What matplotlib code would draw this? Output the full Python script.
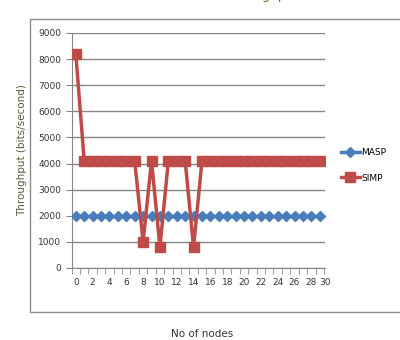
import matplotlib.pyplot as plt
import numpy as np
from matplotlib.patches import Rectangle

nodes = np.arange(0, 30)
masp = [2000] * 30
simp = [8200, 4100, 4100, 4100, 4100, 4100, 4100, 4100, 1000, 4100,
        800, 4100, 4100, 4100, 800] + [4100] * 15
xtick_labels = ['0', '2', '4', '6', '8', '10', '12', '14', '16', '18',
                '20', '22', '24', '26', '28', '30']

fig = plt.figure(figsize=(4, 3.4), dpi=100)
ax = fig.add_axes([0.179, 0.212, 0.633, 0.691])

# chart area border (cut off at the right like the original)
fig.patches.append(Rectangle((0.075, 0.082), 1.0, 0.862, transform=fig.transFigure,
                             fill=False, edgecolor='#8c8c8c', linewidth=1.0))

ax.plot(nodes, masp, color='#4a7ebb', linewidth=2.5, marker='D', markersize=5,
        label='MASP', zorder=3)
ax.plot(nodes, simp, color='#be4b48', linewidth=2.5, marker='s', markersize=6.5,
        label='SIMP', zorder=4)

ax.set_ylim(0, 9000)
ax.set_yticks(np.arange(0, 9001, 1000))
ax.set_xlim(-0.4, 29.6)
ax.set_xticks(list(range(0, 29, 2)) + [29.6])
ax.set_xticklabels(xtick_labels)
ax.set_xticks(np.arange(-0.5, 29.6, 1), minor=True)

ax.grid(axis='y', color='#868686', linewidth=1.0)
ax.set_axisbelow(True)
for s in ['top', 'right']:
    ax.spines[s].set_visible(False)
for s in ['left', 'bottom']:
    ax.spines[s].set_color('#868686')
ax.tick_params(axis='y', labelsize=6.5, colors='#868686', labelcolor='#333333', length=4)
ax.tick_params(axis='x', which='major', labelsize=6.5, length=0, pad=7, labelcolor='#333333')
ax.tick_params(axis='x', which='minor', length=4, color='#868686')

ax.set_ylabel('Throughput (bits/second)', fontsize=7.5, color='#5a5a3a', labelpad=8)

leg = ax.legend(loc='center left', bbox_to_anchor=(1.03, 0.436), frameon=False,
                fontsize=6.5, handlelength=2.2, handletextpad=0.1, labelspacing=1.8)

fig.text(0.655, 1.0 + 1.5 / 340, 'Throughput', fontsize=9, color='#6b6b2a',
         ha='center', va='baseline')
fig.text(0.505, 11 / 340, 'No of nodes', fontsize=7.5, color='#333333',
         ha='center', va='top')

fig.savefig('out.png', dpi=100)
